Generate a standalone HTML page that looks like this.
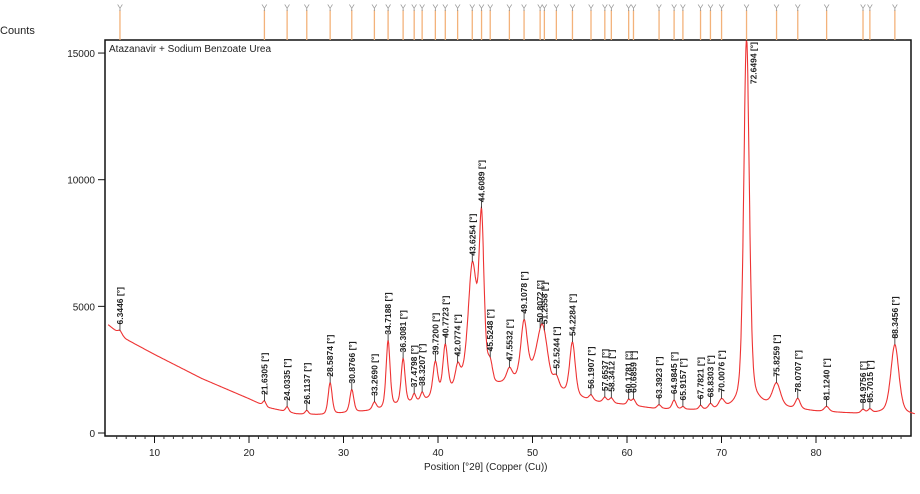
<!DOCTYPE html>
<html><head><meta charset="utf-8"><style>
body{margin:0;background:#fff;width:920px;height:489px;overflow:hidden;font-family:"Liberation Sans",sans-serif}
</style></head><body>
<svg id="chart" width="920" height="489" xmlns="http://www.w3.org/2000/svg" font-family="Liberation Sans, sans-serif">
<text x="0" y="34" font-size="11" fill="#222">Counts</text>
<text x="424" y="470" font-size="10" fill="#222">Position [°2θ] (Copper (Cu))</text>
<text x="109" y="52" font-size="10" fill="#222">Atazanavir + Sodium Benzoate Urea</text>
<rect x="105" y="40" width="806" height="396" fill="none" stroke="#111" stroke-width="1.5"/>
<g id="g"></g>
</svg>
<script>
const peakPos=[6.3446,21.6305,24.0335,26.1137,28.5874,30.8766,33.2690,34.7188,36.3081,37.4798,38.3207,39.7200,40.7723,42.0774,43.6254,44.6089,45.5248,47.5532,49.1078,50.8072,51.2558,52.5244,54.2284,56.1907,57.6537,58.3412,60.1781,60.6859,63.3923,64.9845,65.9157,67.7821,68.8303,70.0076,72.6494,75.8259,78.0707,81.1240,84.9756,85.7015,88.3456];
const peakHeight=[150,200,200,150,1250,900,300,2650,1800,300,300,1400,1900,800,4000,5900,600,500,2200,1000,900,400,2100,200,200,200,200,250,150,350,100,150,200,350,14600,900,400,200,150,150,2700];
const peakWidth=[0.25,0.2,0.2,0.2,0.25,0.25,0.25,0.25,0.25,0.2,0.2,0.3,0.3,0.3,0.5,0.3,0.3,0.35,0.4,0.6,0.5,0.35,0.35,0.25,0.25,0.25,0.2,0.25,0.25,0.25,0.2,0.2,0.25,0.35,0.35,0.5,0.3,0.3,0.25,0.25,0.5];
const bgPos=[5,7,10,15,20,22,25,28,31,34,37,40,42,43,44,46,48,50,51,52,53,55,57,60,63,67,70,72,74,76,80,85,88,90.5];
const bgVal=[4300,3700,3100,2150,1350,1000,750,700,800,900,1150,1350,1700,2200,2700,1800,2000,2300,2600,1900,1600,1350,1200,1100,950,900,900,1000,1100,1000,850,750,800,700];
const xTicks=[10,20,30,40,50,60,70,80];
const yTicks=[0,5000,10000,15000];
const X=v=>627+(v-60)*9.45, Y=c=>433-c*0.02533;
const NS="http://www.w3.org/2000/svg", g=document.getElementById('g');
function mk(t,a){const e=document.createElementNS(NS,t);for(const k in a)e.setAttribute(k,a[k]);g.appendChild(e);return e;}
function bg(v){for(let i=0;i<bgPos.length-1;i++)if(v<=bgPos[i+1]){const f=(v-bgPos[i])/(bgPos[i+1]-bgPos[i]);return bgVal[i]+f*(bgVal[i+1]-bgVal[i]);}return bgVal[bgVal.length-1];}
function I(v){let s=bg(v);for(let i=0;i<peakPos.length;i++){const d=(v-peakPos[i])/peakWidth[i];s+=peakHeight[i]*(0.6*Math.exp(-0.693*d*d)+0.4/(1+d*d));}return s;}
xTicks.forEach(t=>{const l=mk('line',{x1:X(t),x2:X(t),y1:436,y2:443,stroke:'#111'});


const tx=mk('text',{x:X(t),y:456,'font-size':10,'text-anchor':'middle',fill:'#222'});tx.textContent=t;

});
for(let v=6;v<=90;v++){if(v%10){const l=mk('line',{x1:X(v),x2:X(v),y1:436,y2:439,stroke:'#333'});

}}
yTicks.forEach(t=>{const l=mk('line',{x1:98,x2:105,y1:Y(t),y2:Y(t),stroke:'#111'});


const tx=mk('text',{x:95,y:Y(t)+4,'font-size':10,'text-anchor':'end',fill:'#222'});tx.textContent=t;

});
let d='';for(let v=5.1;v<=90.5;v+=0.04){let c=I(v);d+=(d?'L':'M')+X(v).toFixed(1)+','+Math.max(41,Y(c)).toFixed(1);}
const p=mk('path',{d:d,fill:'none',stroke:'#e33',"stroke-width":1.1});


peakPos.forEach((pp,i)=>{const x=X(pp),y=Math.max(41,Y(I(pp)));
const m=mk('line',{x1:x,x2:x,y1:10,y2:40,stroke:'#f3b27a','stroke-width':1.3});


const yy=mk('text',{x:x,y:11,'font-size':9,'text-anchor':'middle',fill:'#999'});yy.textContent='Y';


const label=pp.toFixed(4)+' [°]';
let t;
if(y-6-58<42){
t=mk('text',{x:0,y:0,'font-size':8.5,'font-weight':'bold',fill:'#222','text-anchor':'end',transform:`translate(${x+10},42) rotate(-90)`});
}else{
const l=mk('line',{x1:x,x2:x,y1:y,y2:y-10,stroke:'#222','stroke-width':0.8});


t=mk('text',{x:0,y:0,'font-size':8.5,'font-weight':'bold',fill:'#222',transform:`translate(${x+3},${y-6}) rotate(-90)`});
}
t.textContent=label;

});
</script>
</body></html>
